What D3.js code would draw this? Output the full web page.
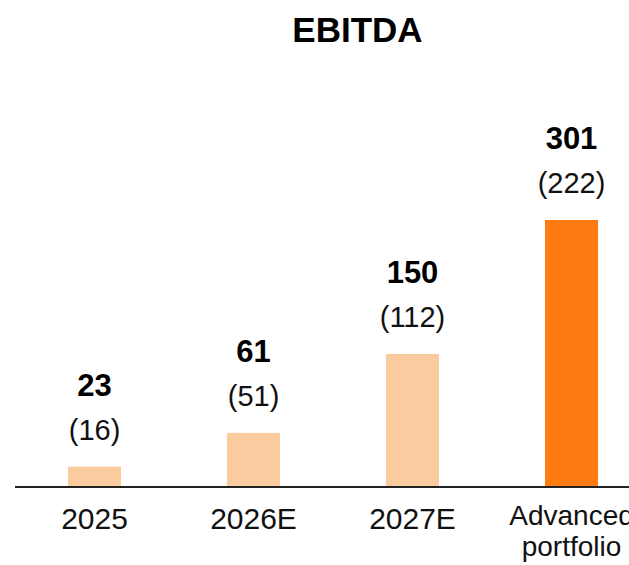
<!DOCTYPE html>
<html>
<head>
<meta charset="utf-8">
<script src="https://cdn.jsdelivr.net/npm/d3@7"></script>
<style>
  html, body { margin: 0; padding: 0; background: #fff; }
  svg { display: block; font-family: "Liberation Sans", Arial, sans-serif; }
</style>
</head>
<body>
<svg id="chart"></svg>
<script>
const categories = ['2025', '2026E', '2027E', 'Advanced portfolio'];
const categoryLines = [['2025'], ['2026E'], ['2027E'], ['Advanced', 'portfolio']];
const ebitda = [23, 61, 150, 301];
const priorEbitda = [16, 51, 112, 222];
const highlight = [false, false, false, true];

const width = 629;
const height = 565;
const baseline = 487;

const svg = d3.select('#chart').attr('width', width).attr('height', height);

const x = d3.scaleBand()
    .domain(categories)
    .range([15, 651])
    .paddingInner(2 / 3)
    .paddingOuter(1 / 3);

const y = d3.scaleLinear()
    .domain([0, 301])
    .range([baseline, 220]);

// title
svg.append('text')
    .attr('x', 357.5)
    .attr('y', 42)
    .attr('text-anchor', 'middle')
    .attr('font-size', 35)
    .attr('font-weight', 'bold')
    .attr('fill', '#000')
    .text('EBITDA');

const rows = categories.map((c, i) => ({
    cat: c,
    value: ebitda[i],
    prior: priorEbitda[i],
    hi: highlight[i],
    lines: categoryLines[i]
}));

// bars
svg.append('g')
    .selectAll('rect')
    .data(rows)
    .join('rect')
    .attr('x', (d) => x(d.cat))
    .attr('y', (d) => y(d.value))
    .attr('width', x.bandwidth())
    .attr('height', (d) => baseline - y(d.value))
    .attr('fill', (d) => (d.hi ? '#ff7a10' : '#fbcba0'));

// value labels
const labels = svg.append('g')
    .selectAll('g')
    .data(rows)
    .join('g')
    .attr('transform', (d) => `translate(${x(d.cat) + x.bandwidth() / 2},${y(d.value)})`);

labels.append('text')
    .attr('y', -71)
    .attr('text-anchor', 'middle')
    .attr('font-size', 31)
    .attr('font-weight', 'bold')
    .attr('fill', '#000')
    .text((d) => d.value);

labels.append('text')
    .attr('y', -27)
    .attr('text-anchor', 'middle')
    .attr('font-size', 29)
    .attr('fill', '#111')
    .text((d) => `(${d.prior})`);

// axis
const axis = svg.append('g')
    .attr('transform', `translate(0,${baseline})`)
    .call(d3.axisBottom(x).tickSize(0).tickFormat(''));

axis.select('.domain')
    .attr('d', `M15,0H${width}`)
    .attr('stroke', '#222')
    .attr('stroke-width', 2);

axis.selectAll('.tick text').remove();

// two-line label sits a bit higher and smaller, like the reference
axis.selectAll('.tick')
    .append('text')
    .attr('text-anchor', 'middle')
    .attr('font-size', (c, i) => (categoryLines[i].length > 1 ? 28 : 30))
    .attr('fill', '#111')
    .each(function (c, i) {
        const lines = categoryLines[i];
        const t = d3.select(this);
        lines.forEach((ln, j) => {
            t.append('tspan')
                .attr('x', 0)
                .attr('y', lines.length > 1 ? 38 + j * 31 : 42)
                .text(ln);
        });
    });
</script>
</body>
</html>
